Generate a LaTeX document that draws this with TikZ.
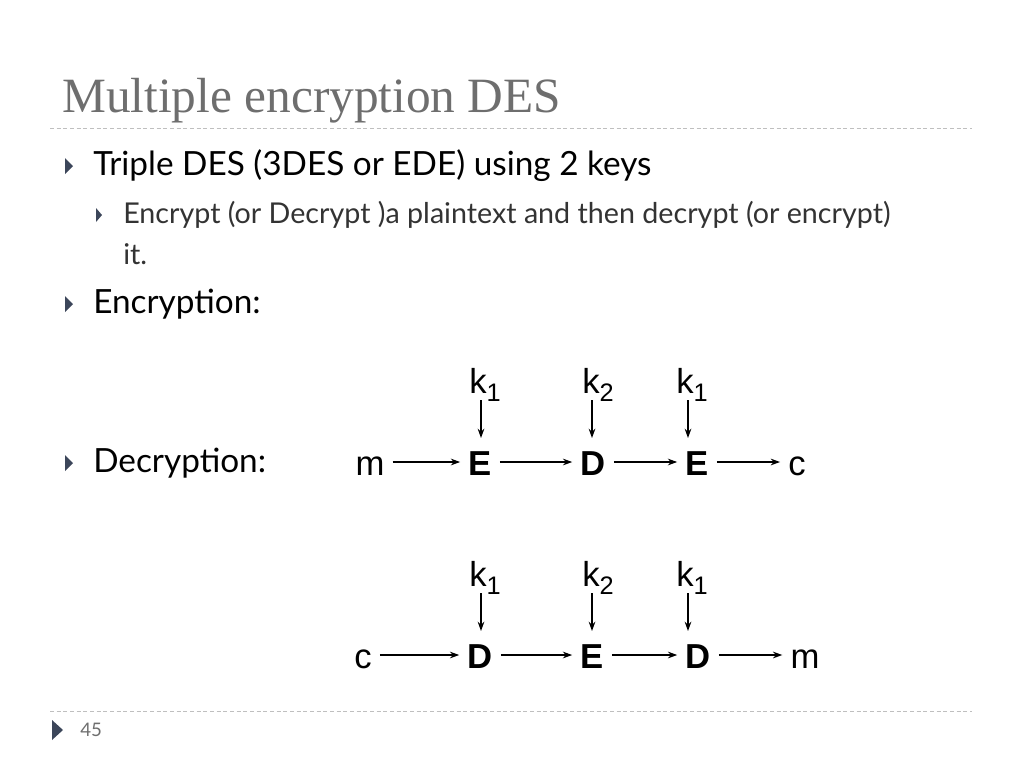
\documentclass[tikz,border=0pt]{standalone}
\usepackage{fontspec}
\setmainfont{Lato}
\newfontfamily\ttl{Liberation Serif}
\newfontfamily\ar{Liberation Sans}
\usetikzlibrary{arrows.meta}
\definecolor{tg}{RGB}{110,110,110}
\definecolor{bl}{RGB}{60,70,90}
\newcommand{\ksub}[1]{k\raisebox{-6pt}{\fontsize{19}{20}\selectfont #1}}
\begin{document}
\begin{tikzpicture}[x=0.75pt,y=-0.75pt,
  bul/.style={fill=bl,draw=none},
  txt/.style={anchor=west,inner sep=0,text=black},
  lbl/.style={font=\ar\fontsize{26}{30}\selectfont,inner xsep=6pt,anchor=base},
  blk/.style={font=\ar\bfseries\fontsize{26}{30}\selectfont,inner xsep=6pt,anchor=base},
  arr/.style={-{Stealth[length=7pt,width=5pt]},line width=1pt},
  rule/.style={draw=gray!50,line width=0.6pt,dash pattern=on 3pt off 2pt}]
\useasboundingbox (0,0) rectangle (1024,768);
\node[anchor=base west,inner sep=0,text=tg,font=\ttl\fontsize{37}{40}\selectfont] (title) at (62,112) {Multiple encryption DES};
\draw[rule] (50,128) -- (972,128);
\draw[rule] (50,711) -- (972,711);
\fill[bul] (52,720) -- (63,730) -- (52,740) -- cycle;
\node[txt,text=tg,font=\fontsize{14}{16}\selectfont] (pg) at (80,730) {45};
% bullets
\fill[bul] (65,158) -- (73,166) -- (65,174) -- cycle;
\node[txt,font=\fontsize{25}{28}\selectfont] (b1) at (93,166) {Triple DES (3DES or EDE) using 2 keys};
\fill[bul] (96,208) -- (102,215) -- (96,222) -- cycle;
\node[txt,text=black!80,font=\fontsize{21.5}{24}\selectfont] (b2) at (123,215) {Encrypt (or Decrypt )a plaintext and then decrypt (or encrypt)};
\node[txt,text=black!80,font=\fontsize{21.5}{24}\selectfont] (b2b) at (123,254) {it.};
\fill[bul] (65,296) -- (73,304) -- (65,312) -- cycle;
\node[txt,font=\fontsize{25}{28}\selectfont] (b3) at (93,304) {Encryption:};
\fill[bul] (65,455) -- (73,463) -- (65,471) -- cycle;
\node[txt,font=\fontsize{25}{28}\selectfont] (b4) at (93,463) {Decryption:};
% row 1
\coordinate (r1) at (0,462);
\node[lbl] (m1) at (370,475) {m};
\node[blk] (e1) at (480,475) {E};
\node[blk] (d1) at (593,475) {D};
\node[blk] (e2) at (697,475) {E};
\node[lbl] (c1) at (797,475) {c};
\node[lbl] (k1) at (485,393) {\ksub{1}};
\node[lbl] (k2) at (598,393) {\ksub{2}};
\node[lbl] (k3) at (692,393) {\ksub{1}};
\draw[arr] (m1.east |- r1) -- (e1.west |- r1);
\draw[arr] (e1.east |- r1) -- (d1.west |- r1);
\draw[arr] (d1.east |- r1) -- (e2.west |- r1);
\draw[arr] (e2.east |- r1) -- (c1.west |- r1);
\draw[arr] (481,400) -- (481,438);
\draw[arr] (592,400) -- (592,438);
\draw[arr] (688,400) -- (688,438);
% row 2
\coordinate (r2) at (0,655);
\node[lbl] (c2) at (363,668) {c};
\node[blk] (d3) at (480,668) {D};
\node[blk] (e3) at (592,668) {E};
\node[blk] (d4) at (698,668) {D};
\node[lbl] (m2) at (805,668) {m};
\node[lbl] (k4) at (485,586) {\ksub{1}};
\node[lbl] (k5) at (598,586) {\ksub{2}};
\node[lbl] (k6) at (692,586) {\ksub{1}};
\draw[arr] (c2.east |- r2) -- (d3.west |- r2);
\draw[arr] (d3.east |- r2) -- (e3.west |- r2);
\draw[arr] (e3.east |- r2) -- (d4.west |- r2);
\draw[arr] (d4.east |- r2) -- (m2.west |- r2);
\draw[arr] (481,593) -- (481,631);
\draw[arr] (592,593) -- (592,631);
\draw[arr] (688,593) -- (688,631);
\end{tikzpicture}
\end{document}
